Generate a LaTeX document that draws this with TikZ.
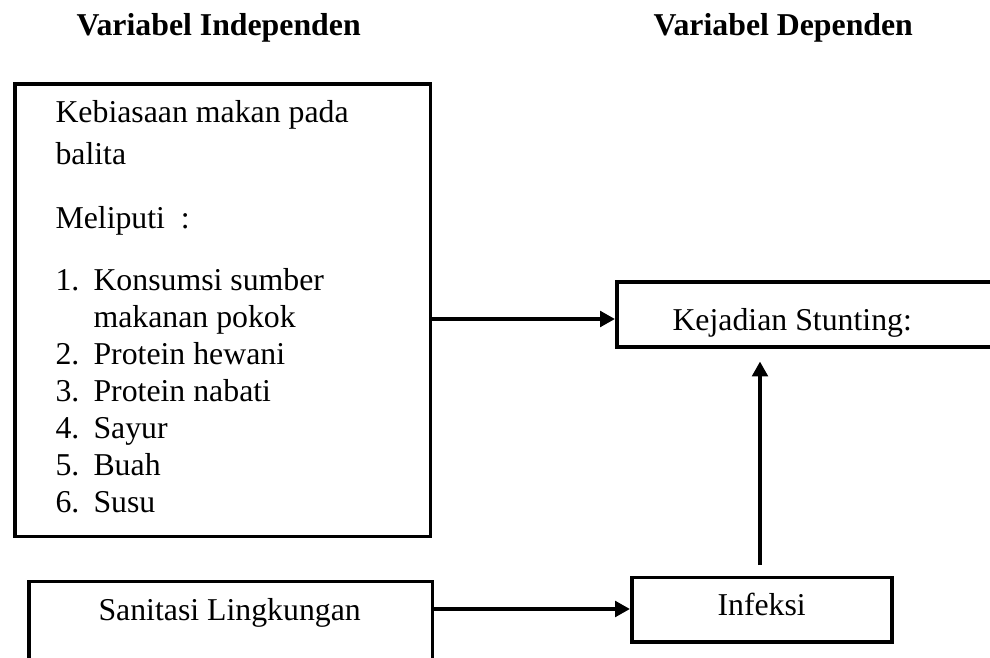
\documentclass[tikz,border=0pt]{standalone}
\usepackage{fontspec}
\setmainfont{Liberation Serif}
\usetikzlibrary{arrows.meta}
\def\upx{0.3774pt}
\begin{document}
\begin{tikzpicture}[x=0.3774pt,y=-0.3774pt,
  boxline/.style={draw=black, line width=1.45pt, inner sep=0pt, anchor=north west},
  txt/.style={anchor=base west, inner sep=0pt, font=\fontsize{12pt}{14pt}\selectfont},
  hdr/.style={anchor=base west, inner sep=0pt, font=\fontsize{12pt}{14pt}\selectfont\bfseries},
  conn/.style={line width=1.45pt, -{Triangle[length=5.6pt,width=5.8pt]}}]
\useasboundingbox (0,0) rectangle (990,658);
\clip (0,0) rectangle (990,658);
% headers
\node[hdr] (h1) at (76,35) {Variabel Independen};
\node[hdr] (h2) at (653,35) {Variabel Dependen};
% left box
\node[boxline, minimum width=415*\upx, minimum height=452.5*\upx] (kb) at (13.5,82) {};
\node[txt] (t1) at (55,122) {Kebiasaan makan pada};
\node[txt] (t2) at (55,164) {balita};
\node[txt] (t3) at (55,228) {Meliputi\ \ :};
\node[txt] (n1) at (55,290) {1.};
\node[txt] (l1) at (93,290) {Konsumsi sumber};
\node[txt] (l1b) at (93,327) {makanan pokok};
\node[txt] (n2) at (55,364) {2.};
\node[txt] (l2) at (93,364) {Protein hewani};
\node[txt] (n3) at (55,401) {3.};
\node[txt] (l3) at (93,401) {Protein nabati};
\node[txt] (n4) at (55,438) {4.};
\node[txt] (l4) at (93,438) {Sayur};
\node[txt] (n5) at (55,475) {5.};
\node[txt] (l5) at (93,475) {Buah};
\node[txt] (n6) at (55,512) {6.};
\node[txt] (l6) at (93,512) {Susu};
% sanitasi box (cut off at bottom)
\node[boxline, minimum width=403*\upx, minimum height=120*\upx] (sl) at (27.5,579.5) {};
\node[txt] (slt) at (98,620) {Sanitasi Lingkungan};
% kejadian stunting box (cut off at right)
\node[boxline, minimum width=420*\upx, minimum height=65*\upx] (ks) at (615,280) {};
\node[txt] (kst) at (672,330) {Kejadian Stunting:};
% infeksi box
\node[boxline, minimum width=260*\upx, minimum height=64.5*\upx] (inf) at (630,575.5) {};
\node[txt] (inft) at (717,615) {Infeksi};
% connectors
\coordinate (a1) at (kb.east |- 0,319);
\draw[conn] (a1) -- (ks.west |- a1);
\coordinate (a2) at (sl.east |- 0,609);
\draw[conn] (a2) -- (inf.west |- a2);
\coordinate (a3s) at (760,565);
\coordinate (a3e) at (760,361.5);
\draw[conn] (a3s) -- (a3e);
\end{tikzpicture}
\end{document}
